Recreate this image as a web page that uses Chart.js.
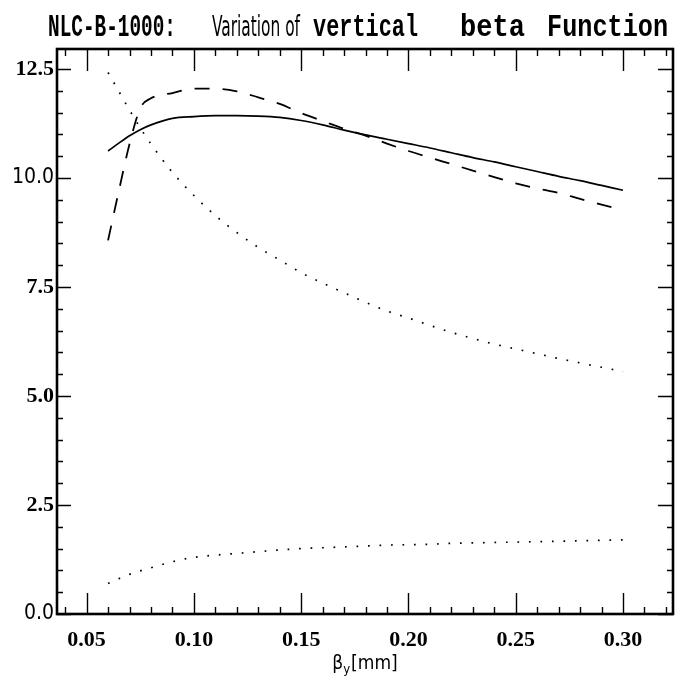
<!DOCTYPE html>
<html>
<head>
<meta charset="utf-8">
<script src="https://cdn.jsdelivr.net/npm/chart.js@4.4.1/dist/chart.umd.min.js"></script>
<style>
  html, body { margin: 0; padding: 0; background: #fff; }
  #wrap { width: 685px; height: 679px; position: relative; }
</style>
</head>
<body>
<div id="wrap"><canvas id="c" width="685" height="679"></canvas></div>
<script>
// ---- data ----
const betaY = [0.06, 0.065, 0.07, 0.075, 0.08, 0.09, 0.10, 0.11, 0.12, 0.13, 0.14, 0.15, 0.16, 0.17, 0.18, 0.19, 0.20, 0.21, 0.22, 0.23, 0.24, 0.25, 0.26, 0.27, 0.28, 0.29, 0.30];
const solidSeries  = [10.62, 10.80, 10.97, 11.11, 11.22, 11.37, 11.41, 11.43, 11.43, 11.42, 11.39, 11.32, 11.22, 11.10, 10.99, 10.89, 10.79, 10.69, 10.58, 10.47, 10.37, 10.26, 10.15, 10.04, 9.94, 9.83, 9.72];
const dashedSeries = [8.57, 9.70, 10.78, 11.60, 11.83, 11.95, 12.05, 12.05, 11.99, 11.85, 11.70, 11.49, 11.31, 11.13, 10.97, 10.79, 10.62, 10.47, 10.32, 10.17, 10.02, 9.88, 9.76, 9.66, 9.52, 9.39, 9.26];
const upperDotted  = [12.42, 11.99, 11.56, 11.15, 10.78, 10.13, 9.60, 9.14, 8.75, 8.41, 8.12, 7.83, 7.59, 7.37, 7.15, 6.95, 6.79, 6.62, 6.46, 6.32, 6.19, 6.08, 5.97, 5.86, 5.76, 5.66, 5.56];
const lowerDotted  = [0.70, 0.81, 0.91, 0.99, 1.06, 1.20, 1.30, 1.35, 1.39, 1.43, 1.47, 1.50, 1.52, 1.54, 1.56, 1.58, 1.59, 1.60, 1.62, 1.63, 1.64, 1.65, 1.66, 1.67, 1.68, 1.69, 1.70];
const xTickValues = [0.05, 0.10, 0.15, 0.20, 0.25, 0.30];
const yTickValues = [0.0, 2.5, 5.0, 7.5, 10.0, 12.5];
const lightYTicks = [0.0, 10.0];
const titleParts = ['NLC-B-1000:', 'Variation of', 'vertical', 'beta', 'Function'];
const xAxisTitle = ['β', 'y', '[mm]'];

// ---- styles ----
const BOLD_SERIF = "'Liberation Serif', 'DejaVu Serif', serif";
const NARROW = "'Liberation Sans Narrow', 'DejaVu Sans Condensed', 'Liberation Sans', sans-serif";
const MONO = "'Liberation Mono', 'DejaVu Sans Mono', monospace";

function pts(ys) { return betaY.map((x, i) => ({ x: x, y: ys[i] })); }

const titlePlugin = {
  id: 'mixedTitle',
  afterDraw(chart) {
    const ctx = chart.ctx;
    const segs = [
      { t: titleParts[0], f: "bold 26px " + MONO, x0: 48, x1: 176 },
      { t: titleParts[1], f: "24px " + NARROW, x0: 212, x1: 300 },
      { t: titleParts[2], f: "bold 26px " + MONO, x0: 313, x1: 418 },
      { t: titleParts[3], f: "bold 26px " + MONO, x0: 460, x1: 525 },
      { t: titleParts[4], f: "bold 26px " + MONO, x0: 547, x1: 668 }
    ];
    ctx.save();
    ctx.fillStyle = '#000';
    ctx.textBaseline = 'alphabetic';
    ctx.textAlign = 'left';
    segs.forEach(s => {
      ctx.font = s.f;
      const w = ctx.measureText(s.t).width;
      ctx.save();
      ctx.translate(s.x0, 36);
      ctx.scale((s.x1 - s.x0) / w, 1.2);
      ctx.fillText(s.t, 0, 0);
      ctx.restore();
    });
    // x axis title with subscript
    const a = chart.chartArea;
    const cx = (a.left + a.right) / 2;
    const f1 = "19px " + NARROW, f2 = "13px " + NARROW;
    ctx.font = f1; const w1 = ctx.measureText(xAxisTitle[0]).width; const w3 = ctx.measureText(xAxisTitle[2]).width;
    ctx.font = f2; const w2 = ctx.measureText(xAxisTitle[1]).width;
    let x = cx - (w1 + w2 + w3 + 1) / 2;
    const base = 669;
    ctx.font = f1; ctx.fillText(xAxisTitle[0], x, base); x += w1;
    ctx.font = f2; ctx.fillText(xAxisTitle[1], x, base + 4); x += w2 + 1;
    ctx.font = f1; ctx.fillText(xAxisTitle[2], x, base);
    ctx.restore();
  }
};

const frameTicks = {
  id: 'frameTicks',
  afterDatasetsDraw(chart) {
    const ctx = chart.ctx, a = chart.chartArea, xs = chart.scales.x, ys = chart.scales.y;
    ctx.save();
    ctx.strokeStyle = '#000';
    ctx.lineWidth = 1.4;
    ctx.beginPath();
    for (let i = 4; i <= 32; i++) {
      const px = Math.round(xs.getPixelForValue(i / 100)) + 0.5;
      const major = i % 5 === 0;
      ctx.moveTo(px, a.bottom); ctx.lineTo(px, a.bottom - (major ? 21 : 7));
      ctx.moveTo(px, a.top); ctx.lineTo(px, a.top + (major ? 22 : 7));
    }
    for (let j = 0; j <= 25; j++) {
      const py = Math.round(ys.getPixelForValue(j * 0.5)) + 0.5;
      const major = j % 5 === 0;
      ctx.moveTo(a.left, py); ctx.lineTo(a.left + (major ? 14 : 6), py);
      ctx.moveTo(a.right, py); ctx.lineTo(a.right - (major ? 15 : 6), py);
    }
    ctx.stroke();
    ctx.lineWidth = 2.6;
    ctx.strokeRect(a.left, a.top, a.right - a.left, a.bottom - a.top);
    ctx.restore();
  }
};

const bg = {
  id: 'bg',
  beforeDraw(chart) {
    const ctx = chart.ctx;
    ctx.save(); ctx.fillStyle = '#fff'; ctx.fillRect(0, 0, chart.width, chart.height); ctx.restore();
  }
};

new Chart(document.getElementById('c'), {
  type: 'line',
  data: {
    datasets: [
      { label: 'solid', data: pts(solidSeries), borderColor: '#000', borderWidth: 1.7, pointRadius: 0, cubicInterpolationMode: 'monotone', fill: false },
      { label: 'dashed', data: pts(dashedSeries), borderColor: '#000', borderWidth: 1.8, borderDash: [15, 13], pointRadius: 0, cubicInterpolationMode: 'monotone', fill: false },
      { label: 'dotted upper', data: pts(upperDotted), borderColor: '#000', borderWidth: 1.7, borderDash: [1.7, 9.8], pointRadius: 0, cubicInterpolationMode: 'monotone', fill: false },
      { label: 'dotted lower', data: pts(lowerDotted), borderColor: '#000', borderWidth: 1.7, borderDash: [1.7, 9.8], pointRadius: 0, cubicInterpolationMode: 'monotone', fill: false }
    ]
  },
  options: {
    responsive: false,
    animation: false,
    devicePixelRatio: 1,
    layout: { padding: { top: 49, right: 12, left: 0, bottom: 0 } },
    plugins: { legend: { display: false }, title: { display: false }, tooltip: { enabled: false } },
    scales: {
      x: {
        type: 'linear', min: 0.0362, max: 0.3233,
        grid: { display: false, drawTicks: false },
        border: { display: false },
        afterBuildTicks: s => { s.ticks = xTickValues.map(v => ({ value: v })); },
        afterFit: s => { s.height = 65; },
        ticks: {
          padding: 13, color: '#000', maxRotation: 0, autoSkip: false,
          font: { family: BOLD_SERIF, size: 22, weight: 'bold' },
          callback: v => Number(v).toFixed(2)
        }
      },
      y: {
        type: 'linear', min: 0, max: 12.96,
        grid: { display: false, drawTicks: false },
        border: { display: false },
        afterBuildTicks: s => { s.ticks = yTickValues.map(v => ({ value: v })); },
        afterFit: s => { s.width = 57; },
        ticks: {
          padding: 3, color: '#000', autoSkip: false,
          font: c => {
            const v = c && c.tick ? c.tick.value : null;
            if (v !== null && lightYTicks.includes(v)) return { family: NARROW, size: 21, weight: 'normal' };
            return { family: BOLD_SERIF, size: 22, weight: 'bold' };
          },
          callback: v => Number(v).toFixed(1)
        }
      }
    }
  },
  plugins: [bg, frameTicks, titlePlugin]
});
</script>
</body>
</html>
